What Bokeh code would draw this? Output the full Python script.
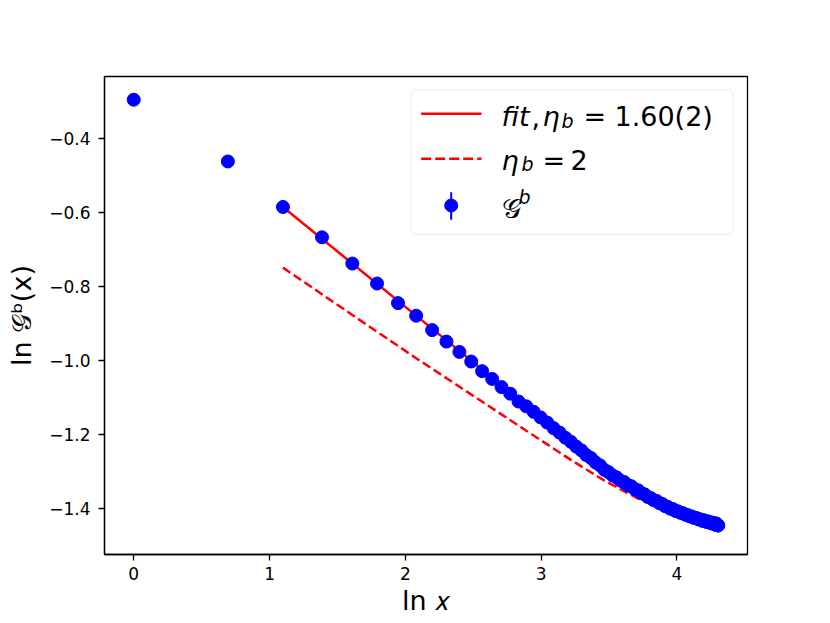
import numpy as np
from bokeh.plotting import figure
from bokeh.models import Range1d, FixedTicker, CustomJSTickFormatter, BoxAnnotation, Label
from bokeh.embed import file_html
from bokeh.resources import INLINE

# ---------------- data ----------------
x_sep = list(range(1, 75))
G_b = [-0.295, -0.462, -0.585, -0.667, -0.738, -0.792, -0.845, -0.879, -0.918, -0.949,
       -0.977, -1.003, -1.029, -1.050, -1.072, -1.090, -1.111, -1.124, -1.139, -1.154,
       -1.168, -1.183, -1.195, -1.209, -1.220, -1.233, -1.243, -1.256, -1.264, -1.276,
       -1.284, -1.296, -1.302, -1.311, -1.316, -1.325, -1.329, -1.337, -1.340, -1.348,
       -1.351, -1.359, -1.362, -1.369, -1.372, -1.378, -1.380, -1.386, -1.388, -1.394,
       -1.396, -1.401, -1.402, -1.407, -1.408, -1.412, -1.413, -1.417, -1.418, -1.422,
       -1.422, -1.426, -1.426, -1.430, -1.430, -1.434, -1.433, -1.437, -1.436, -1.440,
       -1.439, -1.443, -1.441, -1.446]
G_err = [0.004, 0.003, 0.003, 0.003, 0.003, 0.003, 0.003, 0.003, 0.004,
         0.004, 0.004, 0.005, 0.004, 0.005, 0.005, 0.006, 0.005, 0.006, 0.006, 0.007,
         0.007, 0.008, 0.007, 0.008, 0.008, 0.009, 0.008, 0.009, 0.009, 0.010,
         0.009, 0.010, 0.010, 0.011, 0.010, 0.011, 0.011, 0.012, 0.011, 0.012,
         0.012, 0.013, 0.012, 0.013, 0.013, 0.014, 0.013, 0.014, 0.014, 0.015,
         0.014, 0.015, 0.015, 0.016, 0.015, 0.016, 0.016, 0.017, 0.016, 0.017,
         0.017, 0.017, 0.018, 0.017, 0.018, 0.018, 0.019, 0.018, 0.019, 0.019,
         0.019, 0.020, 0.019, 0.020]
fit_x = [3, 30]
fit_y = [-0.585, -1.275]
eta2_x = [3, 5, 8, 12, 18, 25, 32, 38, 42]
eta2_y = [-0.749, -0.877, -0.994, -1.092, -1.190, -1.269, -1.325, -1.359, -1.378]
xticks = [0, 1, 2, 3, 4]
yticks = [-1.4, -1.2, -1.0, -0.8, -0.6, -0.4]

# ---------------- derived ----------------
lnx = np.log(np.array(x_sep, dtype=float))
y = np.array(G_b)
e = np.array(G_err)
xpad = 0.05 * (lnx.max() - lnx.min())
x0, x1 = lnx.min() - xpad, lnx.max() + xpad
ylo, yhi = (y - e).min(), (y + e).max()
ypad = 0.05 * (yhi - ylo)
y0, y1 = ylo - ypad, yhi + ypad

W, H = 830, 623
FL, FR, FT, FB = 104, 747, 76, 554          # plot frame in page pixels
BL, BR, BT, BB = FL, W - FR, FT, H - FB

def X(px):
    return x0 + (px - FL) / (FR - FL) * (x1 - x0)

def Y(py):
    return y1 - (py - FT) / (FB - FT) * (y1 - y0)

FONT = "DejaVu Sans"

p = figure(width=W, height=H, output_backend="svg", toolbar_location=None,
           x_range=Range1d(x0, x1), y_range=Range1d(y0, y1),
           min_border_left=BL, min_border_right=BR, min_border_top=BT, min_border_bottom=BB)
p.xgrid.visible = False
p.ygrid.visible = False
p.outline_line_color = "black"
p.outline_line_width = 1.3
p.background_fill_color = "white"
p.border_fill_color = "white"

for ax in (p.xaxis[0], p.yaxis[0]):
    ax.axis_line_color = "black"
    ax.axis_line_width = 1.3
    ax.major_tick_line_color = "black"
    ax.major_tick_line_width = 1.3
    ax.major_tick_out = 6
    ax.major_tick_in = 0
    ax.minor_tick_line_color = None
    ax.major_label_text_font = FONT
    ax.major_label_text_font_size = "17px"
    ax.major_label_text_color = "black"
    ax.axis_label_text_font = FONT
    ax.axis_label_text_font_size = "27px"
    ax.axis_label_text_font_style = "normal"
    ax.axis_label_text_color = "black"

p.xaxis.ticker = FixedTicker(ticks=xticks)
p.yaxis.ticker = FixedTicker(ticks=yticks)
p.yaxis.formatter = CustomJSTickFormatter(code="return tick.toFixed(1).replace('-', '\u2212');")
p.xaxis.major_label_standoff = 6
p.yaxis.major_label_standoff = 8
p.xaxis.axis_label = "ln 𝑥"
p.yaxis.axis_label = "ln 𝒢ᵇ(x)"
p.xaxis.axis_label_standoff = 2
p.yaxis.axis_label_standoff = 9

# ---------------- data glyphs ----------------
p.line(np.log(fit_x), fit_y, line_color="#ff0000", line_width=2.5)
p.line(np.log(eta2_x), eta2_y, line_color="#ff0000", line_width=2.5, line_dash="9 4")
p.segment(lnx, y - e, lnx, y + e, line_color="#0000ff", line_width=2)
p.scatter(lnx, y, size=13, marker="circle", fill_color="#0000ff", line_color="#0000ff")

# ---------------- legend (manual) ----------------
box = BoxAnnotation(left=X(410.7), right=X(732.7), top=Y(89.3), bottom=Y(234),
                    fill_color="white", fill_alpha=0.8, line_color="#cccccc", line_width=1.3,
                    border_radius=5, level="underlay")
p.add_layout(box)
p.line([X(420.7), X(481)], [Y(113.3), Y(113.3)], line_color="#ff0000", line_width=2.5)
p.line([X(420.7), X(481)], [Y(158.3), Y(158.3)], line_color="#ff0000", line_width=2.5, line_dash="10 4")
p.segment([X(450.7)], [Y(191.7)], [X(450.7)], [Y(219.3)], line_color="#0000ff", line_width=2)
p.scatter([X(450.7)], [Y(205)], size=13, marker="circle", fill_color="#0000ff", line_color="#0000ff")

def lab(px, py, text, size="27px", style="normal"):
    p.add_layout(Label(x=X(px), y=Y(py), text=text, text_font=FONT, text_font_size=size,
                       text_font_style=style, text_color="black",
                       text_align="left", text_baseline="alphabetic"))

# row 1: fit, eta_b = 1.60(2)
r1 = 116
lab(501, r1, "fit", style="italic")
lab(531, r1, ",")
lab(542, r1, "η", style="italic")
lab(561, r1 + 4, "b", size="19px", style="italic")
lab(583, r1, "=")
lab(614, r1, "1.60(2)")
# row 2: eta_b = 2
r2 = 159.5
lab(501, r2, "η", style="italic")
lab(521, r2 + 4, "b", size="19px", style="italic")
lab(542, r2, "=")
lab(570, r2, "2")
# row 3: G^b
r3 = 208
lab(501, r3, "𝒢")
lab(518, r3 - 12, "b", size="19px", style="italic")

open("out.html", "w").write(file_html(p, INLINE))
